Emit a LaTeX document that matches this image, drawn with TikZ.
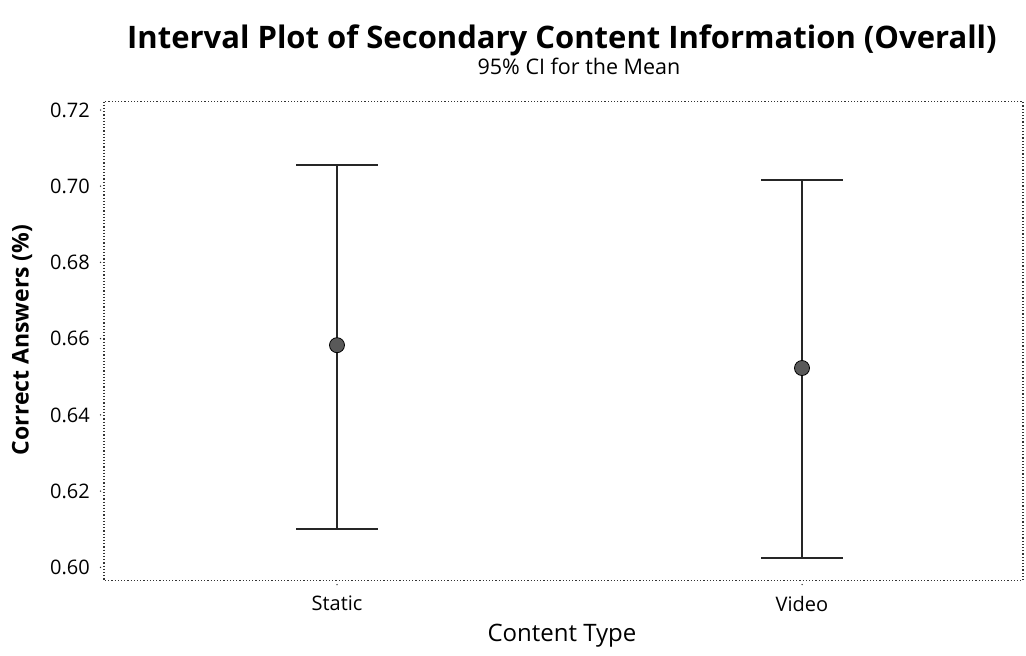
\documentclass[tikz,border=0pt]{standalone}
\usepackage{fontspec}
\setmainfont{Open Sans}
\begin{document}
\begin{tikzpicture}[x=1pt,y=-1pt,
  frame/.style={line width=1.2pt,dotted,black!80},
  bar/.style={line width=1.6pt,black!85},
  meanpt/.style={circle,draw=black,line width=0.8pt,fill=black!65,minimum size=15pt,inner sep=0pt},
  ticklab/.style={anchor=east,font=\fontsize{20}{20}\selectfont,inner sep=0pt},
  catlab/.style={anchor=center,font=\fontsize{20}{20}\selectfont,inner sep=0pt},
  tickdot/.style={fill=black!80,inner sep=0pt,minimum size=1.5pt,circle}]
\useasboundingbox (0,0) rectangle (1026,656);
\pgfmathsetmacro{\ybase}{567.3}
\pgfmathsetmacro{\ysc}{3811}
\def\Y#1{\ybase-(#1-0.60)*\ysc}
% frame
\draw[frame] (104,101.5) rectangle (1023,580.5);
% titles
\node[font=\bfseries\fontsize{31}{31}\selectfont] (title) at (562,40) {Interval Plot of Secondary Content Information (Overall)};
\node[font=\fontsize{21.5}{21.5}\selectfont] (sub) at (579,66) {95\% CI for the Mean};
\node[font=\fontsize{24}{24}\selectfont] (xt) at (562,636) {Content Type};
\node[font=\bfseries\fontsize{23}{23}\selectfont,rotate=90] (yt) at (22,340) {Correct Answers (\%)};
% y ticks
\foreach \v/\t in {0.60/0.60,0.62/0.62,0.64/0.64,0.66/0.66,0.68/0.68,0.70/0.70,0.72/0.72}{
  \node[ticklab] (t\t) at (90,{\Y{\v}}) {\t};
  \node[tickdot] at (100.5,{\Y{\v}}) {};
}
% categories
\node[catlab] (cs) at (337,603) {Static};
\node[catlab] (cv) at (802,604) {Video};
\node[tickdot] at (337,584.5) {};
\node[tickdot] at (802,584.5) {};
% static interval
\coordinate (s1) at (337,{\Y{0.7056}});
\coordinate (s0) at (337,{\Y{0.6100}});
\draw[bar] (s0) -- (s1);
\draw[bar] ([xshift=-41]s1) -- ([xshift=41]s1);
\draw[bar] ([xshift=-41]s0) -- ([xshift=41]s0);
\node[meanpt] (ms) at (337,{\Y{0.6583}}) {};
% video interval
\coordinate (v1) at (802,{\Y{0.7016}});
\coordinate (v0) at (802,{\Y{0.6025}});
\draw[bar] (v0) -- (v1);
\draw[bar] ([xshift=-41]v1) -- ([xshift=41]v1);
\draw[bar] ([xshift=-41]v0) -- ([xshift=41]v0);
\node[meanpt] (mv) at (802,{\Y{0.6523}}) {};
\end{tikzpicture}
\end{document}
